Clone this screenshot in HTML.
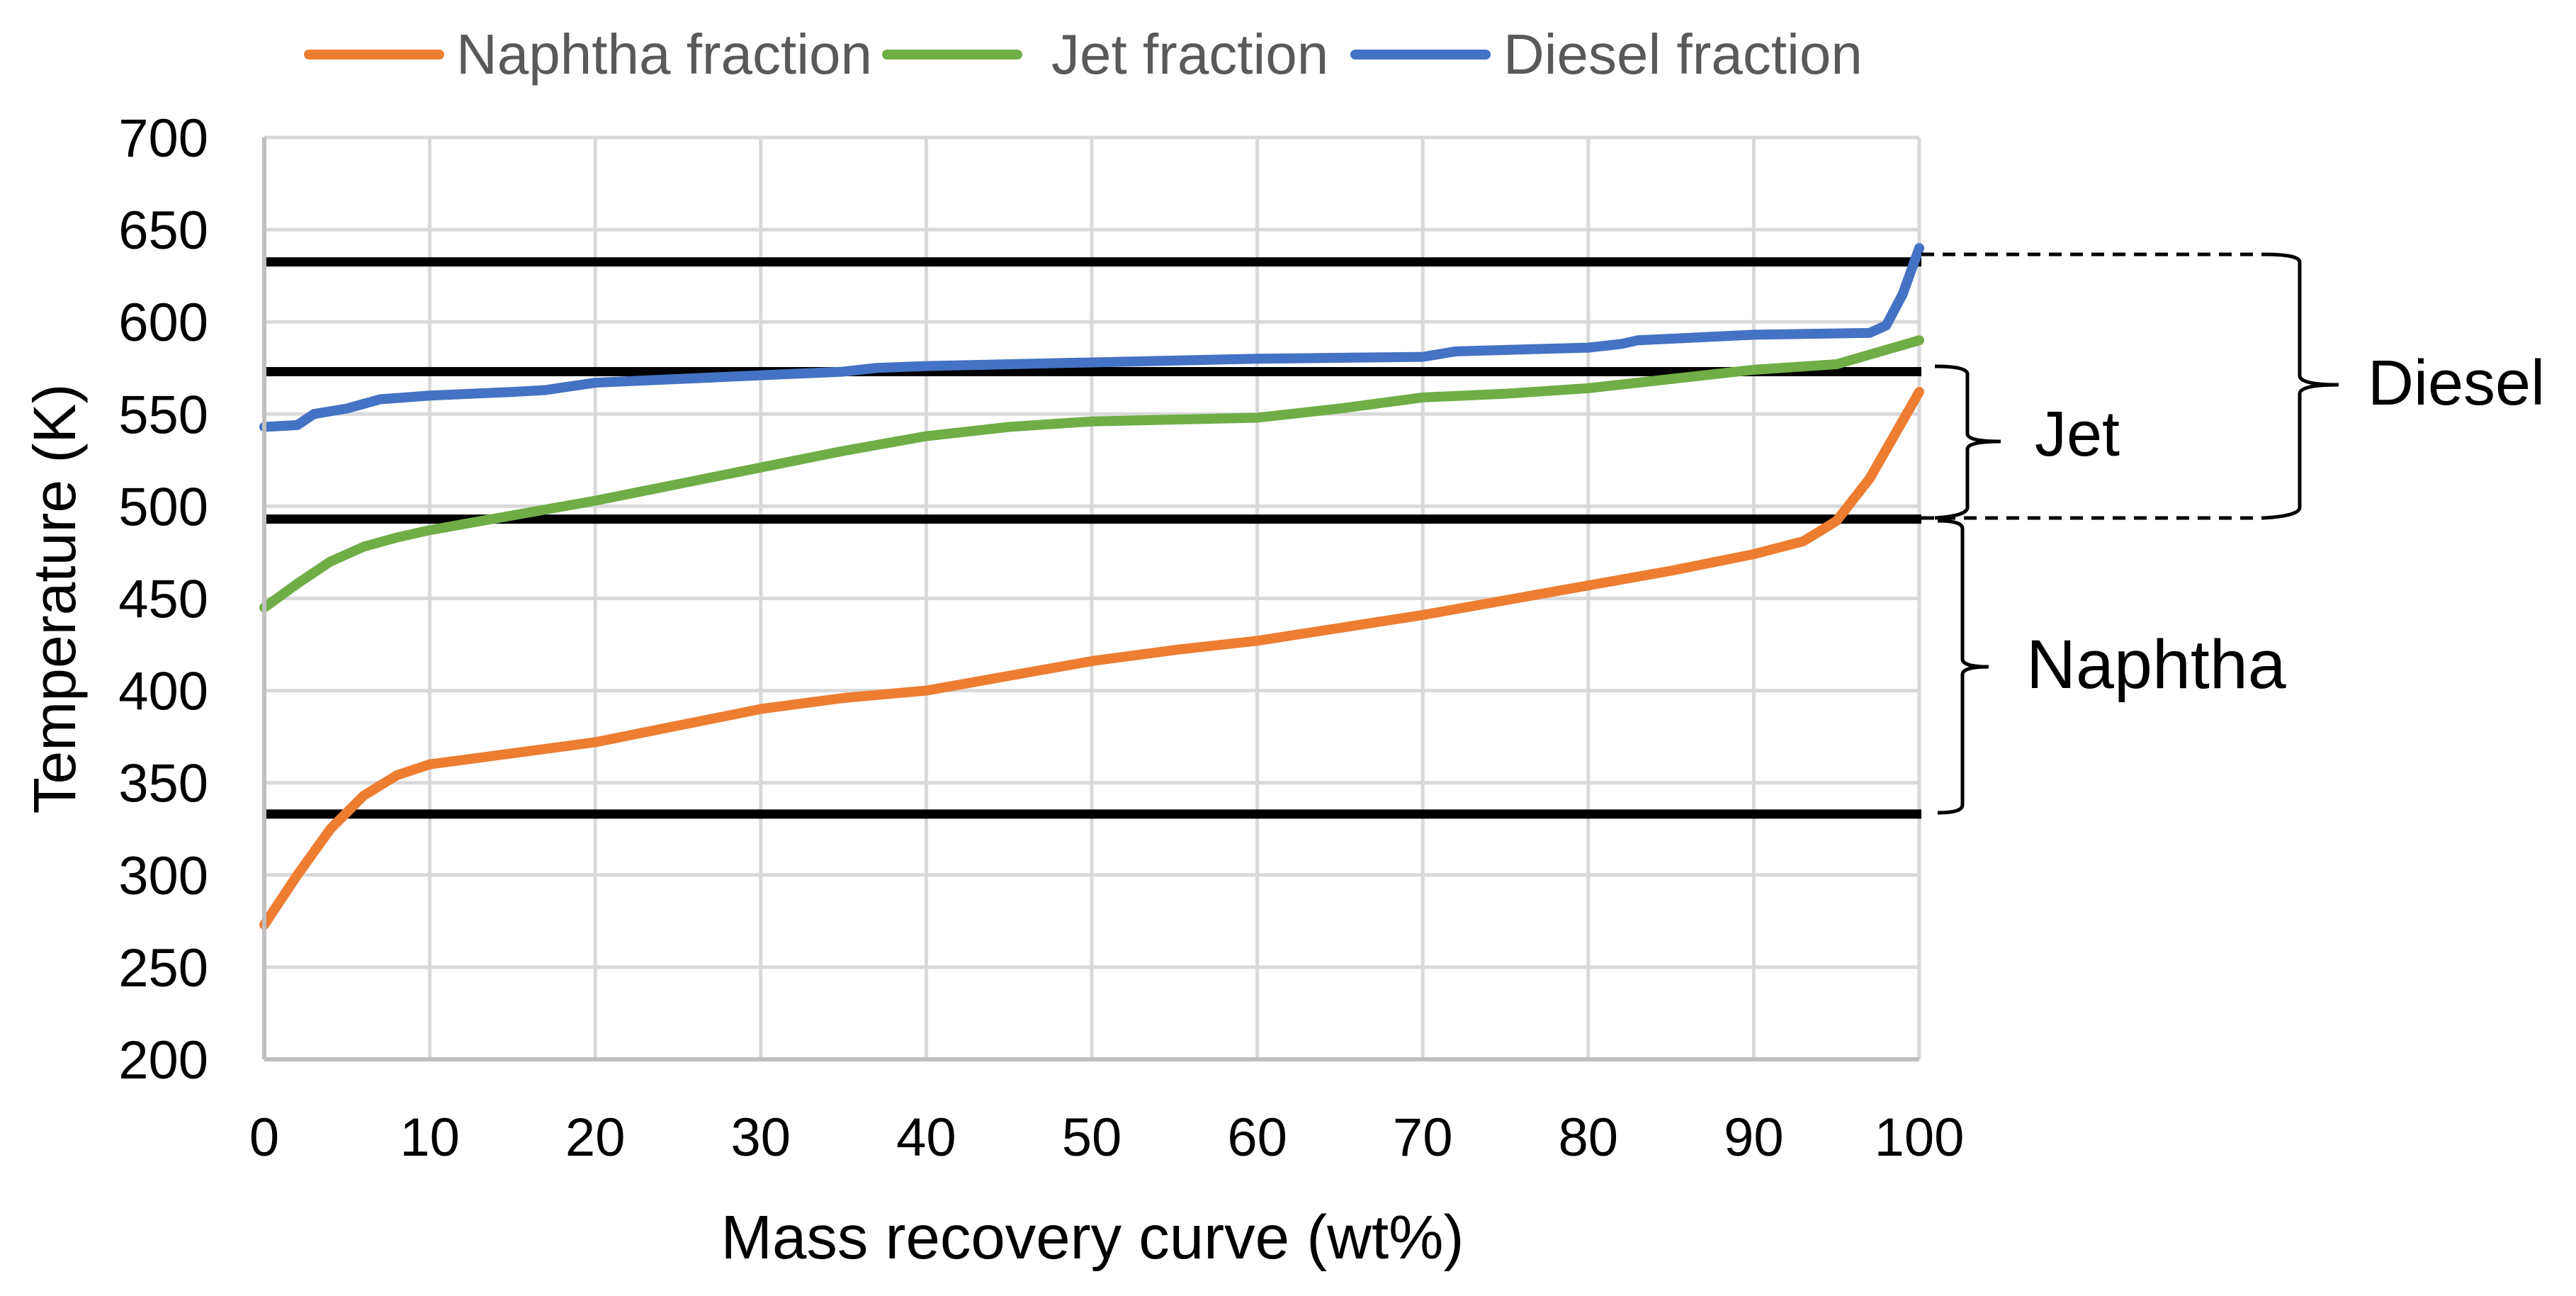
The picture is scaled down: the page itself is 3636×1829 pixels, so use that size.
<!DOCTYPE html>
<html><head><meta charset="utf-8"><style>
html,body{margin:0;padding:0;background:#fff;}
svg text{font-family:"Liberation Sans",sans-serif;}
</style></head><body>
<svg id="chart" width="3636" height="1824" xmlns="http://www.w3.org/2000/svg">
<g id="grid"></g>
<g id="refs"></g>
<g id="series"></g>
<g id="axes"></g>
<g id="legend"></g>
<g id="annot" fill="none" stroke="#000" stroke-width="5">
  <path d="M2712 359 L3195 359" stroke-dasharray="18 12"/>
  <path d="M2712 731 L3195 731" stroke-dasharray="18 12"/>
  <path d="M3195 359 Q3246 359 3246 370 L3246 530 Q3246 543 3301 543 Q3246 543 3246 556 L3246 716 Q3246 728 3195 731"/>
  <path d="M2731 517 Q2777 517 2777 528 L2777 612 Q2777 623 2824 623 Q2777 623 2777 634 L2777 716 Q2777 728 2731 731"/>
  <path d="M2735 735 Q2770 735 2770 746 L2770 930 Q2770 941 2807 941 Q2770 941 2770 952 L2770 1136 Q2770 1147 2735 1147"/>
</g>
<text x="3342" y="571" font-size="90" fill="#000">Diesel</text>
<text x="2872" y="643" font-size="90" fill="#000">Jet</text>
<text x="2860" y="971" font-size="97" fill="#000">Naphtha</text>
<text x="1542" y="1776" font-size="87" text-anchor="middle" fill="#000">Mass recovery curve (wt%)</text>
<text transform="translate(106,845) rotate(-90)" font-size="84" text-anchor="middle" fill="#000">Temperature (K)</text>
</svg>
<script>
const xTicks=[0,10,20,30,40,50,60,70,80,90,100];
const yTicks=[200,250,300,350,400,450,500,550,600,650,700];
const cutLines=[632.5,573,493,333];
const naphX=[0,2,4,6,8,10,15,20,25,30,35,40,45,50,55,60,65,70,75,80,85,90,93,95,97,100];
const naphY=[273,300,325,343,354,360,366,372,381,390,396,400,408,416,422,427,434,441,449,457,465,474,481,492,515,562];
const jetX=[0,2,4,6,8,10,15,20,25,30,35,40,45,50,55,60,65,70,75,80,85,90,95,100];
const jetY=[445,458,470,478,483,487,495,503,512,521,530,538,543,546,547,548,553,559,561,564,569,574,577,590];
const dieselX=[0,2,3,5,7,10,15,17,20,25,30,35,37,40,50,60,70,72,80,82,83,90,97,98,99,100];
const dieselY=[543,544,550,553,558,560,562,563,567,569,571,573,575,576,578,580,581,584,586,588,590,593,594,598,615,640];
const seriesNames=["Naphtha fraction","Jet fraction","Diesel fraction"];
const colors=["#ED7D31","#70AD47","#4472C4"];
const X0=373,X1=2709,YB=1495,YT=194;
const sx=v=>X0+(v-0)/(100-0)*(X1-X0);
const sy=v=>YB-(v-200)/(700-200)*(YB-YT);
const NS="http://www.w3.org/2000/svg";
function mk(tag,attrs,parent){const e=document.createElementNS(NS,tag);for(const k in attrs)e.setAttribute(k,attrs[k]);parent.appendChild(e);return e;}
const grid=document.getElementById('grid'),axes=document.getElementById('axes');
xTicks.forEach(t=>{
  const l=mk('line',{x1:sx(t),x2:sx(t),y1:YT,y2:YB,stroke:'#d9d9d9','stroke-width':5},grid);
  
  
  const tx=mk('text',{x:sx(t),y:YB+136,'font-size':76,'text-anchor':'middle',fill:'#000'},axes);
  tx.textContent=t;
  
  
});
yTicks.forEach(t=>{
  const l=mk('line',{x1:X0,x2:X1,y1:sy(t),y2:sy(t),stroke:'#d9d9d9','stroke-width':5},grid);
  
  
  const tx=mk('text',{x:294,y:sy(t)+27,'font-size':76,'text-anchor':'end',fill:'#000'},axes);
  tx.textContent=t;
  
  
});
const ax=mk('line',{x1:X0,x2:X0,y1:YT,y2:YB,stroke:'#bfbfbf','stroke-width':6},axes);


const bx=mk('line',{x1:X0,x2:X1,y1:YB,y2:YB,stroke:'#bfbfbf','stroke-width':6},axes);


const refs=document.getElementById('refs');
cutLines.forEach(v=>{
  const l=mk('line',{x1:X0,x2:X1+3,y1:sy(v),y2:sy(v),stroke:'#000','stroke-width':13},refs);
  
  
});
const ser=document.getElementById('series');
[[naphX,naphY,'naphtha-line'],[jetX,jetY,'jet-line'],[dieselX,dieselY,'diesel-line']].forEach((s,i)=>{
  const pts=s[0].map((x,j)=>sx(x)+','+sy(s[1][j])).join(' ');
  const p=mk('polyline',{points:pts,fill:'none',stroke:colors[i],'stroke-width':14,'stroke-linejoin':'round','stroke-linecap':'round'},ser);
  
  
});
const leg=document.getElementById('legend');
const legX=[436,1252,1913],legTX=[644,1484,2122];
seriesNames.forEach((n,i)=>{
  const l=mk('line',{x1:legX[i],x2:legX[i]+184,y1:77,y2:77,stroke:colors[i],'stroke-width':14,'stroke-linecap':'round'},leg);
  
  
  const t=mk('text',{x:legTX[i],y:104,'font-size':80,fill:'#595959'},leg);
  t.textContent=n;
  
  
});
</script>
</body></html>
